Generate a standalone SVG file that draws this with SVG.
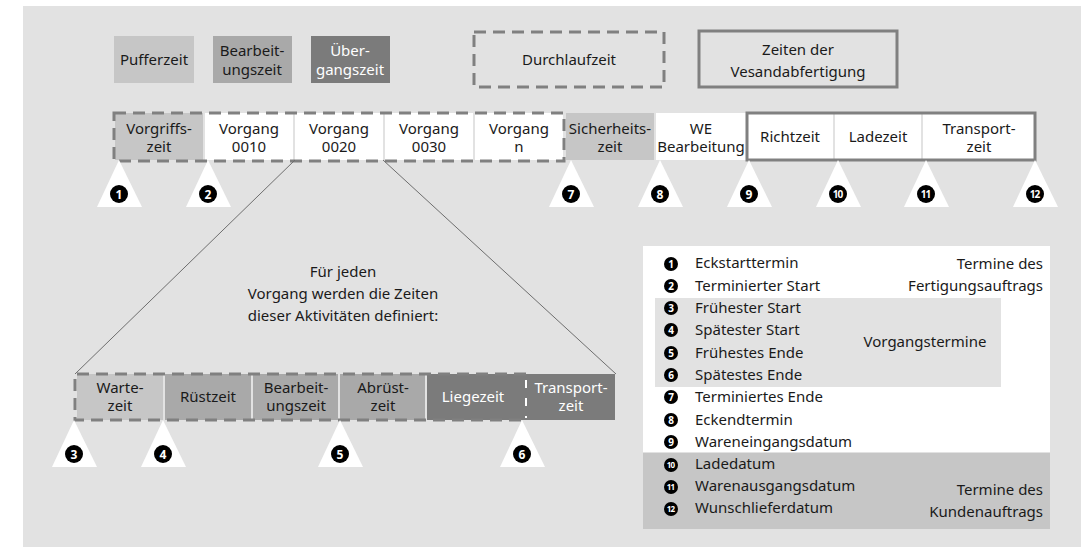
<svg xmlns="http://www.w3.org/2000/svg" width="1086" height="550" viewBox="0 0 1086 550">
<defs>
<style>
text{font-family:"Noto Sans","Open Sans","Liberation Sans",sans-serif;font-size:15px;fill:#1a1a1a}
.c{text-anchor:middle}
.r{text-anchor:end}
.w{fill:#ffffff}
.lg{fill:#c6c6c6}
.md{fill:#a9a9a9}
.dk{fill:#7b7b7b}
.wh{fill:#ffffff}
.dash{fill:none;stroke:#808080;stroke-width:3;stroke-dasharray:12 7}
.solid{fill:none;stroke:#808080;stroke-width:3}
.tri{fill:#ffffff}
.num{fill:#000000}
.nt{fill:#ffffff;font-weight:bold;font-size:12px;text-anchor:middle}
.nt2{fill:#ffffff;font-weight:bold;font-size:10px;text-anchor:middle;letter-spacing:-1px}
.ls{fill:#ffffff;font-weight:bold;font-size:10px;text-anchor:middle}
.ls2{fill:#ffffff;font-weight:bold;font-size:8px;text-anchor:middle;letter-spacing:-0.8px}
.conn{stroke:#6e6e6e;stroke-width:1;fill:none}
</style>
</defs>
<rect x="23" y="6" width="1058" height="541" fill="#e2e2e2"/>

<g id="legend-top">
<g id="l-puffer"><rect x="114" y="36" width="80" height="47" class="lg"/><text x="154" y="65" class="c">Pufferzeit</text></g>
<g id="l-bearb"><rect x="213" y="36" width="79" height="47" class="md"/><text x="252" y="56" class="c">Bearbeit-</text><text x="252" y="75" class="c">ungszeit</text></g>
<g id="l-ueber"><rect x="311" y="36" width="79" height="47" class="dk"/><text x="350" y="56" class="c w">Über-</text><text x="350" y="75" class="c w">gangszeit</text></g>
<g id="l-durch"><rect x="474" y="32" width="190" height="55" class="dash"/><text x="569" y="65" class="c">Durchlaufzeit</text></g>
<g id="l-versand"><rect x="699" y="31" width="198" height="56" class="solid"/><text x="798" y="55" class="c">Zeiten der</text><text x="798" y="77" class="c">Vesandabfertigung</text></g>
</g>

<g id="row1">
<g id="vorgriff"><rect x="115" y="113" width="88" height="47" class="lg"/><text x="159" y="134" class="c">Vorgriffs-</text><text x="159" y="152" class="c">zeit</text></g>
<g id="v0010"><rect x="205" y="113" width="88" height="47" class="wh"/><text x="249" y="134" class="c">Vorgang</text><text x="249" y="152" class="c">0010</text></g>
<g id="v0020"><rect x="295" y="113" width="88" height="47" class="wh"/><text x="339" y="134" class="c">Vorgang</text><text x="339" y="152" class="c">0020</text></g>
<g id="v0030"><rect x="385" y="113" width="88" height="47" class="wh"/><text x="429" y="134" class="c">Vorgang</text><text x="429" y="152" class="c">0030</text></g>
<g id="vn"><rect x="475" y="113" width="88" height="47" class="wh"/><text x="519" y="134" class="c">Vorgang</text><text x="519" y="152" class="c">n</text></g>
<g id="sicher"><rect x="566" y="113" width="88" height="47" class="lg"/><text x="610" y="134" class="c">Sicherheits-</text><text x="610" y="152" class="c">zeit</text></g>
<g id="we"><rect x="656" y="113" width="90" height="47" class="wh"/><text x="701" y="134" class="c">WE</text><text x="701" y="152" class="c">Bearbeitung</text></g>
<g id="richt"><rect x="747" y="113" width="86" height="47" class="wh"/><text x="790" y="142" class="c">Richtzeit</text></g>
<g id="lade"><rect x="835" y="113" width="86" height="47" class="wh"/><text x="878" y="142" class="c">Ladezeit</text></g>
<g id="transp1"><rect x="923" y="113" width="112" height="47" class="wh"/><text x="979" y="134" class="c">Transport-</text><text x="979" y="152" class="c">zeit</text></g>
<rect x="114" y="113" width="450" height="48" class="dash"/>
<rect x="747" y="113" width="288" height="47" class="solid"/>
</g>

<g id="connectors">
<line x1="295" y1="160" x2="75" y2="374" class="conn"/>
<line x1="383" y1="160" x2="616" y2="374" class="conn"/>
</g>

<g id="note"><text x="343" y="277" class="c">Für jeden</text><text x="343" y="299" class="c">Vorgang werden die Zeiten</text><text x="343" y="321" class="c">dieser Aktivitäten definiert:</text></g>

<g id="row2">
<g id="warte"><rect x="77" y="374" width="86" height="46" class="lg"/><text x="120" y="393" class="c">Warte-</text><text x="120" y="411" class="c">zeit</text></g>
<g id="ruest"><rect x="165" y="374" width="86" height="46" class="md"/><text x="208" y="402" class="c">Rüstzeit</text></g>
<g id="bearb2"><rect x="253" y="374" width="85" height="46" class="md"/><text x="296" y="393" class="c">Bearbeit-</text><text x="296" y="411" class="c">ungszeit</text></g>
<g id="abruest"><rect x="340" y="374" width="85" height="46" class="md"/><text x="383" y="393" class="c">Abrüst-</text><text x="383" y="411" class="c">zeit</text></g>
<g id="liege"><rect x="427" y="374" width="98" height="46" class="dk"/><text x="473" y="402" class="c w">Liegezeit</text></g>
<g id="transp2"><rect x="525" y="374" width="90" height="46" class="dk"/><text x="571" y="393" class="c w">Transport-</text><text x="571" y="411" class="c w">zeit</text></g>
<path d="M526,374 H75 V420 H526" class="dash"/>
<line x1="526" y1="376" x2="526" y2="418" stroke="#ffffff" stroke-width="2" stroke-dasharray="8 10" stroke-dashoffset="-4"/>
</g>

<g id="markers">
<g id="m1"><polygon points="119,160 97,207 142,207" class="tri"/><circle cx="119" cy="194" r="9" class="num"/><text x="119" y="198.5" class="nt">1</text></g>
<g id="m2"><polygon points="208,160 186,207 231,207" class="tri"/><circle cx="208" cy="194" r="9" class="num"/><text x="208" y="198.5" class="nt">2</text></g>
<g id="m7"><polygon points="571,160 549,207 594,207" class="tri"/><circle cx="571" cy="194" r="9" class="num"/><text x="571" y="198.5" class="nt">7</text></g>
<g id="m8"><polygon points="660,160 638,207 683,207" class="tri"/><circle cx="660" cy="194" r="9" class="num"/><text x="660" y="198.5" class="nt">8</text></g>
<g id="m9"><polygon points="749,160 727,207 772,207" class="tri"/><circle cx="749" cy="194" r="9" class="num"/><text x="749" y="198.5" class="nt">9</text></g>
<g id="m10"><polygon points="838,160 816,207 861,207" class="tri"/><circle cx="838" cy="194" r="9" class="num"/><text x="837.5" y="197.8" class="nt2">10</text></g>
<g id="m11"><polygon points="926,160 904,207 949,207" class="tri"/><circle cx="926" cy="194" r="9" class="num"/><text x="925.5" y="197.8" class="nt2">11</text></g>
<g id="m12"><polygon points="1035,160 1013,207 1058,207" class="tri"/><circle cx="1035" cy="194" r="9" class="num"/><text x="1034.5" y="197.8" class="nt2">12</text></g>
<g id="m3"><polygon points="74,420 52,467 97,467" class="tri"/><circle cx="74" cy="454" r="9" class="num"/><text x="74" y="458.5" class="nt">3</text></g>
<g id="m4"><polygon points="163,420 141,467 186,467" class="tri"/><circle cx="163" cy="454" r="9" class="num"/><text x="163" y="458.5" class="nt">4</text></g>
<g id="m5"><polygon points="340,420 318,467 363,467" class="tri"/><circle cx="340" cy="454" r="9" class="num"/><text x="340" y="458.5" class="nt">5</text></g>
<g id="m6"><polygon points="522,420 500,467 545,467" class="tri"/><circle cx="522" cy="454" r="9" class="num"/><text x="522" y="458.5" class="nt">6</text></g>
</g>

<g id="legend">
<rect x="643" y="246" width="407" height="206" fill="#ffffff"/>
<rect x="655" y="298" width="346" height="89" fill="#e2e2e2"/>
<rect x="643" y="453" width="407" height="76" fill="#c6c6c6"/>
<g id="lg1"><circle cx="671" cy="264" r="7" class="num"/><text x="671" y="267.7" class="ls">1</text><text x="695" y="268">Eckstarttermin</text></g>
<g id="lg2"><circle cx="671" cy="286" r="7" class="num"/><text x="671" y="289.7" class="ls">2</text><text x="695" y="291">Terminierter Start</text></g>
<g id="lg3"><circle cx="671" cy="308" r="7" class="num"/><text x="671" y="311.7" class="ls">3</text><text x="695" y="313">Frühester Start</text></g>
<g id="lg4"><circle cx="671" cy="330" r="7" class="num"/><text x="671" y="333.7" class="ls">4</text><text x="695" y="335">Spätester Start</text></g>
<g id="lg5"><circle cx="671" cy="353" r="7" class="num"/><text x="671" y="356.7" class="ls">5</text><text x="695" y="358">Frühestes Ende</text></g>
<g id="lg6"><circle cx="671" cy="375" r="7" class="num"/><text x="671" y="378.7" class="ls">6</text><text x="695" y="380">Spätestes Ende</text></g>
<g id="lg7"><circle cx="671" cy="397" r="7" class="num"/><text x="671" y="400.7" class="ls">7</text><text x="695" y="402">Terminiertes Ende</text></g>
<g id="lg8"><circle cx="671" cy="420" r="7" class="num"/><text x="671" y="423.7" class="ls">8</text><text x="695" y="425">Eckendtermin</text></g>
<g id="lg9"><circle cx="671" cy="442" r="7" class="num"/><text x="671" y="445.7" class="ls">9</text><text x="695" y="447">Wareneingangsdatum</text></g>
<g id="lg10"><circle cx="671" cy="465" r="7" class="num"/><text x="670.6" y="467.9" class="ls2">10</text><text x="695" y="469">Ladedatum</text></g>
<g id="lg11"><circle cx="671" cy="487" r="7" class="num"/><text x="670.6" y="489.9" class="ls2">11</text><text x="695" y="491">Warenausgangsdatum</text></g>
<g id="lg12"><circle cx="671" cy="509" r="7" class="num"/><text x="670.6" y="511.9" class="ls2">12</text><text x="695" y="513">Wunschlieferdatum</text></g>
<text x="1043" y="269" class="r">Termine des</text>
<text x="1043" y="291" class="r">Fertigungsauftrags</text>
<text x="925" y="347" class="c">Vorgangstermine</text>
<text x="1043" y="495" class="r">Termine des</text>
<text x="1043" y="517" class="r">Kundenauftrags</text>
</g>
</svg>
